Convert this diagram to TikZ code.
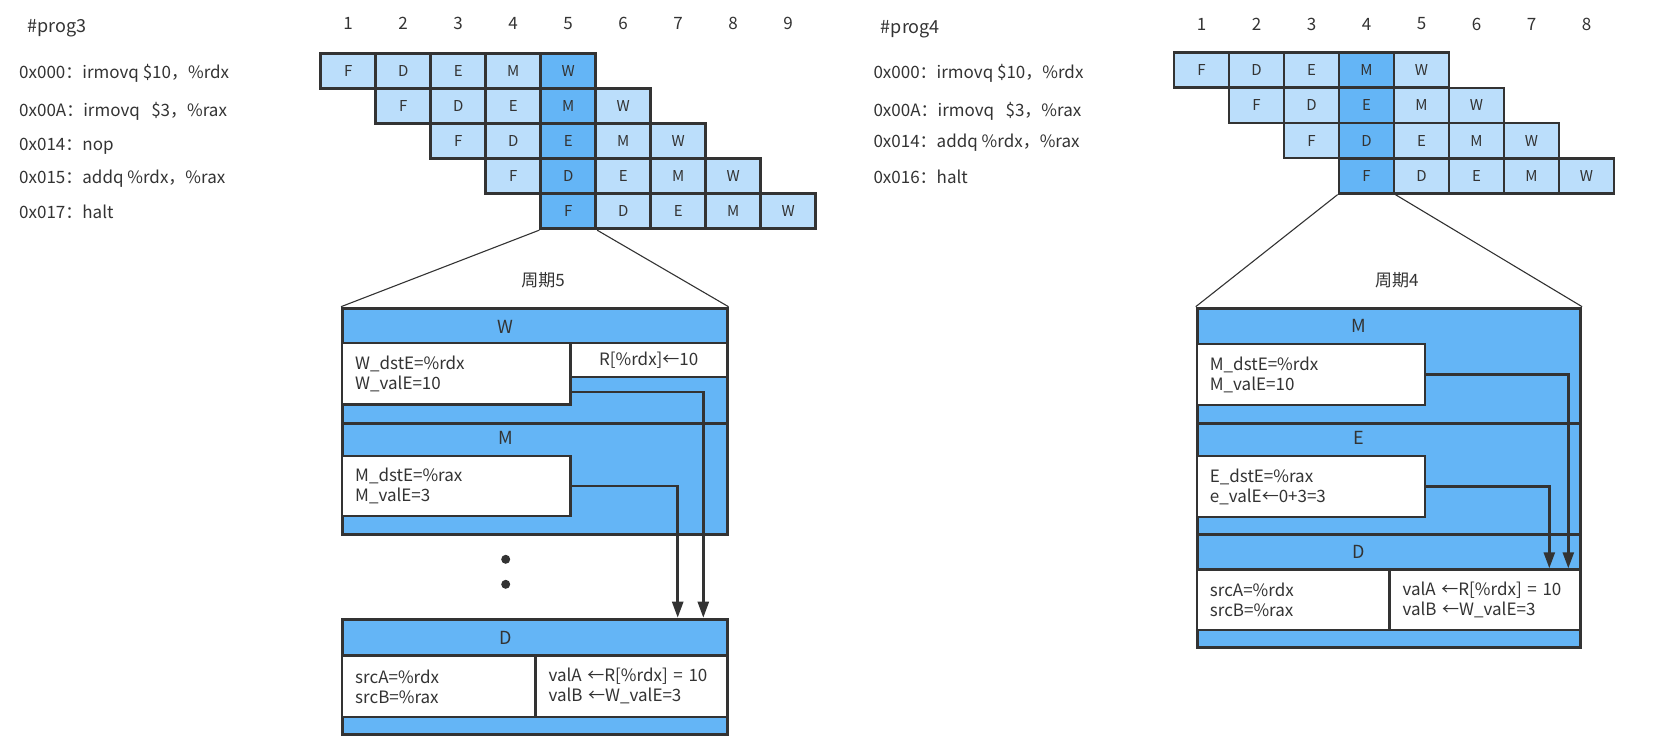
\documentclass[tikz,border=0pt]{standalone}
\usepackage{fontspec}
\setmainfont{Noto Sans CJK SC}
\usetikzlibrary{arrows.meta,positioning}
\definecolor{cellblue}{HTML}{BBDEFB}
\definecolor{hotblue}{HTML}{64B5F6}
\definecolor{ink}{HTML}{333333}

\begin{document}
\begin{tikzpicture}[
    x=1pt,y=-1pt,
    cell/.style={draw=ink,line width=2.8pt,fill=cellblue,minimum width=55pt,
      minimum height=35pt,inner sep=0pt,text=ink,font=\fontsize{15}{18}\selectfont},
    num/.style={text=ink,inner sep=0pt,font=\fontsize{17}{20}\selectfont},
    instr/.style={anchor=west,inner sep=0pt,text=ink,font=\fontsize{17}{20}\selectfont},
    stagebox/.style={draw=ink,line width=2.8pt,fill=hotblue,inner sep=0pt,
      minimum width=384.7pt,anchor=north west},
    reg/.style={draw=ink,line width=2.4pt,fill=white,inner ysep=0pt,inner xsep=13pt,
      align=left,text=ink,font=\fontsize{17}{20}\selectfont,anchor=north west},
    head/.style={text=ink,inner sep=0pt,font=\fontsize{18}{20}\selectfont},
    zoomline/.style={draw=ink,line width=1.1pt},
    arrow/.style={-{Triangle[length=16pt,width=11pt]},draw=ink,line width=2.5pt}
  ]
  \useasboundingbox (0,0) rectangle (1656,747);

  % prog3
  \node[instr,font=\fontsize{18}{20}\selectfont] (p3) at (27.3,28.3) {\#prog3};
  \node[instr] (p3a) at (19,73.3) {0x000：irmovq \$10，\%rdx};
  \node[instr] (p3b) at (19,111.7) {0x00A：irmovq\ \ \ \$3，\%rax};
  \node[instr] (p3c) at (19,146.7) {0x014：nop};
  \node[instr] (p3d) at (19,178.3) {0x015：addq \%rdx，\%rax};
  \node[instr] (p3e) at (19,211.7) {0x017：halt};

  \foreach \c in {1,...,9}
    \node[num] (lc\c) at ({320.7+55*(\c-1)+27.5},23.5) {\c};
  \foreach \st [count=\s from 0] in {F,D,E,M,W}
    \foreach \r in {1,...,5} {
      \pgfmathtruncatemacro\c{\r+\s}
      \ifnum\c=5 \def\cfill{hotblue}\else\def\cfill{cellblue}\fi
      \node[cell,fill=\cfill] (l-\r-\c) at ({320.7+55*(\c-1)+27.5},{53.3+35.1*(\r-1)+17.55}) {\st};
    }

  % cycle 5
  \node[head,font=\fontsize{17}{20}\selectfont] (cyc5) at (543,280) {周期5};
  \node[stagebox,minimum height=115pt] (secW) at (341,306.7) {};
  \node[stagebox,minimum height=111.6pt] (secM) at (341,421.7) {};
  \node[head] (hW) at (505.7,326.7) {W};
  \node[head] (hM) at (505.7,437.7) {M};
  \node[reg,text width=202.3pt,minimum height=61.6pt] (wreg) at (341,341.7)
    {W\_dstE=\%rdx\\W\_valE=10};
  \node[reg,minimum width=156.4pt,minimum height=34pt,align=center,inner xsep=0pt]
    (rdx) at (569.3,341.7) {R[\%rdx]←10};
  \node[reg,text width=202.3pt,minimum height=60pt] (mreg) at (341,455)
    {M\_dstE=\%rax\\M\_valE=3};
  \fill[ink] (505.7,559.3) circle (4.5);
  \fill[ink] (505.7,584.3) circle (4.5);
  \node[stagebox,minimum height=115.6pt] (secD) at (341,617.7) {};
  \node[head] (hD) at (505.7,637.7) {D};
  \node[reg,text width=167.3pt,minimum height=61.7pt] (sreg) at (341,654.3)
    {srcA=\%rdx\\srcB=\%rax};
  \node[reg,text width=165.4pt,minimum height=61.7pt] (vreg) at (534.3,654.3)
    {valA ←R[\%rdx] = 10\\valB ←W\_valE=3};
  \coordinate (inW) at (703.3,617.7);
  \coordinate (inM) at (677.7,617.7);
  \draw[arrow] ([yshift=-18.5pt]wreg.east) -| (inW);
  \draw[arrow] (mreg.east) -| (inM);
  \draw[zoomline] (l-5-5.south west) -- (secW.north west);
  \draw[zoomline] (l-5-5.south east) -- (secW.north east);

  % prog4
  \node[instr,font=\fontsize{18}{20}\selectfont] (p4) at (880.7,29.3) {\#prog4};
  \node[instr] (p4a) at (873.3,73.3) {0x000：irmovq \$10，\%rdx};
  \node[instr] (p4b) at (873.3,111.7) {0x00A：irmovq\ \ \ \$3，\%rax};
  \node[instr] (p4c) at (873.3,142.7) {0x014：addq \%rdx，\%rax};
  \node[instr] (p4d) at (873.3,176.7) {0x016：halt};

  \foreach \c in {1,...,8}
    \node[num] (rc\c) at ({1174+55*(\c-1)+27.5},24) {\c};
  \foreach \st [count=\s from 0] in {F,D,E,M,W}
    \foreach \r in {1,...,4} {
      \pgfmathtruncatemacro\c{\r+\s}
      \ifnum\c=4 \def\cfill{hotblue}\else\def\cfill{cellblue}\fi
      \node[cell,fill=\cfill] (r-\r-\c) at ({1174+55*(\c-1)+27.5},{52.7+35.15*(\r-1)+17.57}) {\st};
    }

  % cycle 4
  \node[head,font=\fontsize{17}{20}\selectfont] (cyc4) at (1396.7,280) {周期4};
  \node[stagebox,minimum width=383.6pt,minimum height=115pt] (secM2) at (1195.7,306.7) {};
  \node[stagebox,minimum width=383.6pt,minimum height=111.6pt] (secE2) at (1195.7,421.7) {};
  \node[stagebox,minimum width=383.6pt,minimum height=112.7pt] (secD2) at (1195.7,533.3) {};
  \node[head] (hM2) at (1359,326) {M};
  \node[head] (hE2) at (1359,437.7) {E};
  \node[head] (hD2) at (1359,552.3) {D};
  \node[reg,text width=202.3pt,minimum height=61.3pt] (mreg2) at (1195.7,342.7)
    {M\_dstE=\%rdx\\M\_valE=10};
  \node[reg,text width=202.3pt,minimum height=61pt] (ereg2) at (1195.7,455)
    {E\_dstE=\%rax\\e\_valE←0+3=3};
  \node[reg,text width=166.6pt,minimum height=60.7pt] (sreg2) at (1195.7,568.3)
    {srcA=\%rdx\\srcB=\%rax};
  \node[reg,text width=165pt,minimum height=60.7pt] (vreg2) at (1388.3,568.3)
    {valA ←R[\%rdx] = 10\\valB ←W\_valE=3};
  \coordinate (inM2) at (1568.3,568.3);
  \coordinate (inE2) at (1549.3,568.3);
  \draw[arrow] (mreg2.east) -| (inM2);
  \draw[arrow] (ereg2.east) -| (inE2);
  \draw[zoomline] (r-4-4.south west) -- (secM2.north west);
  \draw[zoomline] (r-4-4.south east) -- (secM2.north east);
\end{tikzpicture}
\end{document}
